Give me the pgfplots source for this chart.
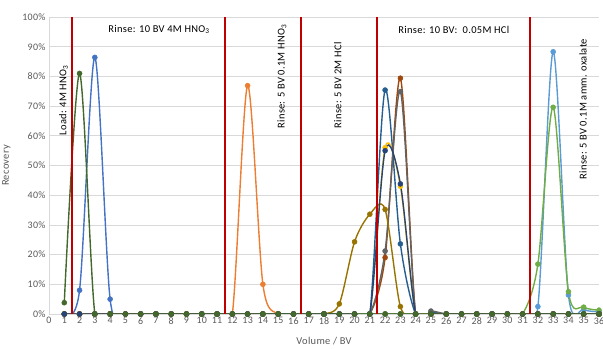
\documentclass[border=0pt]{standalone}
\usepackage{pgfplots}
\pgfplotsset{compat=1.18}
\usepackage{pgfplotstable}
\usepackage{fontspec}
\setmainfont{Carlito}[LetterSpace=3]
\definecolor{lb}{HTML}{5B9BD5}
\definecolor{or}{HTML}{ED7D31}
\definecolor{gy}{HTML}{A5A5A5}
\definecolor{ye}{HTML}{FFC000}
\definecolor{bl}{HTML}{4472C4}
\definecolor{gr}{HTML}{70AD47}
\definecolor{db}{HTML}{255E91}
\definecolor{br}{HTML}{9E480E}
\definecolor{dg}{HTML}{636363}
\definecolor{go}{HTML}{997300}
\definecolor{nv}{HTML}{264478}
\definecolor{dk}{HTML}{43682B}
\definecolor{redc}{HTML}{C00000}
\definecolor{gridc}{HTML}{D9D9D9}
\definecolor{tickc}{HTML}{595959}
\pgfplotstableread{
x lb or gy ye bl gr db br dg go nv dk
1 0 0 0 0 0 0 0 0 0 0 0 3.8
2 0 0 0 0 8 0 0 0 0 0 0 81
3 0 0 0 0 86.4 0 0 0 0 0 0 0
4 0 0 0 0 5 0 0 0 0 0 0 0
5 0 0 0 0 0 0 0 0 0 0 0 0
6 0 0 0 0 0 0 0 0 0 0 0 0
7 0 0 0 0 0 0 0 0 0 0 0 0
8 0 0 0 0 0 0 0 0 0 0 0 0
9 0 0 0 0 0 0 0 0 0 0 0 0
10 0 0 0 0 0 0 0 0 0 0 0 0
11 0 0 0 0 0 0 0 0 0 0 0 0
12 0 0 0 0 0 0 0 0 0 0 0 0
13 0 76.9 0 0 0 0 0 0 0 0 0 0
14 0 10 0 0 0 0 0 0 0 0 0 0
15 0 0 0 0 0 0 0 0 0 0 0 0
16 0 0 0 0 0 0 0 0 0 0 0 0
17 0 0 0 0 0 0 0 0 0 0 0 0
18 0 0 0 0 0 0 0 0 0 0 0 0
19 0 0 0 0 0 0 0 0 0 3.4 0 0
20 0 0 0 0 0 0 0 0 0 24.3 0 0
21 0 0 0 0 0 0 0 0 0 33.6 0 0
22 0 0 0 56 0 0 75.4 19 21.2 35.2 55 0
23 0 0 0 43 0 0 23.6 79.4 74.9 2.5 43.8 0
24 0 0 0 0 0 0 0 0 0 0 0 0
25 0 0 0 0 0 0 0.5 0 1 0 0 0
26 0 0 0 0 0 0 0 0 0 0 0 0
27 0 0 0 0 0 0 0 0 0 0 0 0
28 0 0 0 0 0 0 0 0 0 0 0 0
29 0 0 0 0 0 0 0 0 0 0 0 0
30 0 0 0 0 0 0 0 0 0 0 0 0
31 0 0 0 0 0 0 0 0 0 0 0 0
32 2.5 0 0 0 0 16.8 0 0 0 0 0 0
33 88.3 0 0 0 0 69.6 0 0 0 0 0 0
34 6.4 0 0 0 0 7.5 0 0 0 0 0 0
35 1.5 0 0 0 0 2.3 0 0 0 0 0 0
36 0.8 0 0 0 0 1.3 0 0 0 0 0 0
}\data
\pgfplotsset{ser/.style={smooth, tension=0.5, color=#1, line width=1.4bp, mark=*, mark size=2.5bp, mark options={solid, fill=#1, line width=0.5bp}}}
\begin{document}
\begin{tikzpicture}
\useasboundingbox (-49bp,-35bp) rectangle (554bp,314bp);
\begin{axis}[at={(0,0)}, anchor=south west, scale only axis,
  width=550bp, height=297bp,
  xmin=0, xmax=36, ymin=0, ymax=100,
  xtick={0,...,36}, ytick={0,10,...,100},
  yticklabel={\pgfmathprintnumber{\tick}\%},
  ymajorgrids, grid style={color=gridc, line width=0.75bp},
  axis x line*=bottom, axis y line*=left,
  axis line style={color=gridc, line width=0.75bp, -},
  major tick length=0pt,
  tick label style={font=\fontsize{10}{11}\selectfont, text=tickc},
  /pgf/number format/assume math mode=true,
  xlabel={Volume / BV}, ylabel={Recovery},
  label style={font=\fontsize{10.5}{12}\selectfont, text=tickc},
  xlabel style={yshift=-6bp},
  ylabel style={yshift=5bp},
]
\addplot[ser=lb] table[x=x,y=lb]{\data};
\addplot[ser=or] table[x=x,y=or]{\data};
\addplot[ser=gy] table[x=x,y=gy]{\data};
\addplot[ser=ye] table[x=x,y=ye]{\data};
\addplot[ser=bl] table[x=x,y=bl]{\data};
\addplot[ser=gr] table[x=x,y=gr]{\data};
\addplot[ser=db] table[x=x,y=db]{\data};
\addplot[ser=br] table[x=x,y=br]{\data};
\addplot[ser=dg] table[x=x,y=dg]{\data};
\addplot[ser=go] table[x=x,y=go]{\data};
\addplot[ser=nv] table[x=x,y=nv]{\data};
\addplot[ser=dk] table[x=x,y=dk]{\data};
\addplot[color=redc, line width=2bp, no marks] coordinates {(1.5,0) (1.5,100)};
\addplot[color=redc, line width=2bp, no marks] coordinates {(11.5,0) (11.5,100)};
\addplot[color=redc, line width=2bp, no marks] coordinates {(16.5,0) (16.5,100)};
\addplot[color=redc, line width=2bp, no marks] coordinates {(21.5,0) (21.5,100)};
\addplot[color=redc, line width=2bp, no marks] coordinates {(31.5,0) (31.5,100)};
\begin{scope}[every node/.style={font=\fontsize{10.5}{12}\selectfont, inner sep=0pt}]
\node[rotate=90] at (axis cs:0.95,72) {Load: 4M HNO\textsubscript{3}};
\node at (axis cs:7.2,95.8) {Rinse: 10 BV 4M HNO\textsubscript{3}};
\node[rotate=90] at (axis cs:15.25,80) {Rinse: 5 BV 0.1M HNO\textsubscript{3}};
\node[rotate=90] at (axis cs:18.9,77) {Rinse: 5 BV 2M HCl};
\node at (axis cs:26.5,95.8) {Rinse: 10 BV:\ \ 0.05M HCl};
\node[rotate=90] at (axis cs:34.95,69) {Rinse: 5 BV 0.1M amm. oxalate};
\end{scope}
\end{axis}
\end{tikzpicture}
\end{document}
